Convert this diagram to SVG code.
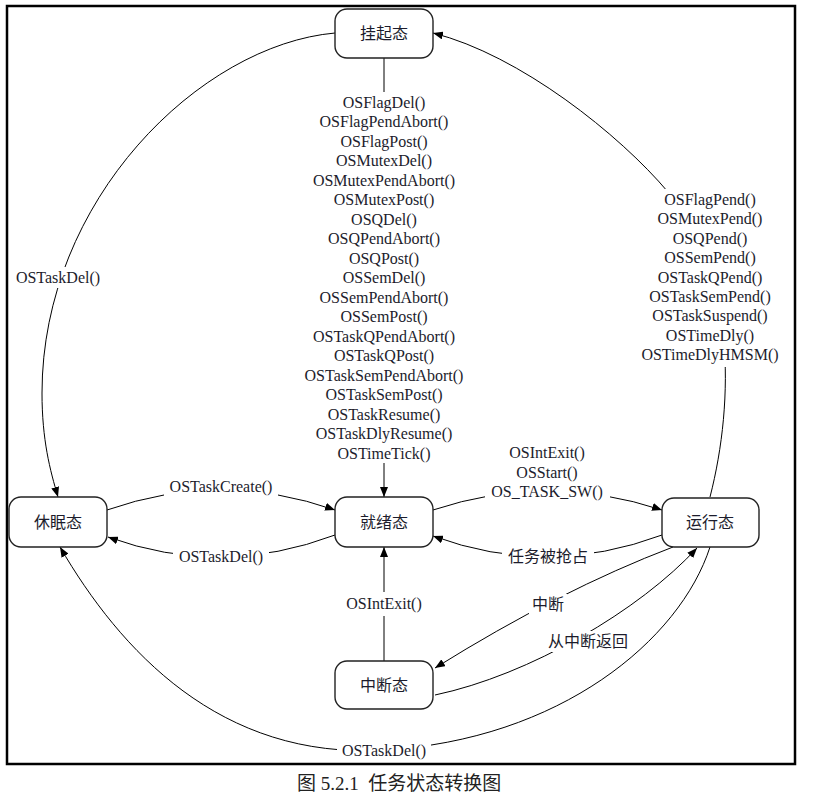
<svg xmlns="http://www.w3.org/2000/svg" width="814" height="797" viewBox="0 0 814 797">
<style>
.frame{fill:none;stroke:#000;stroke-width:2.5}
.node rect{fill:#fff;stroke:#222;stroke-width:1.4}
.node text,.lbl text{font-family:"Liberation Serif","Noto Sans CJK SC",serif;font-size:16px;fill:#1c1c2c;text-anchor:middle}
.edge{fill:none;stroke:#000;stroke-width:1}
.bg{fill:#fff;stroke:none}
.cap{font-family:"Liberation Serif","Noto Sans CJK SC",serif;font-size:19px;fill:#222}
</style>
<defs>
<marker id="arr" viewBox="0 0 10 8" refX="10" refY="4" markerWidth="10" markerHeight="8" markerUnits="userSpaceOnUse" orient="auto">
<path d="M0,0 L10,4 L0,8 Z" fill="#000"/>
</marker>
</defs>
<rect width="814" height="797" fill="#fff"/>
<rect class="frame" x="7" y="6" width="788" height="758"/>

<g id="connectors">
<path class="edge" d="M335,33 C200,45 42,200 42,393 C42,440 50,470 58,497" marker-end="url(#arr)"/>
<path class="edge" d="M710,497 C735,400 735,270 668,192 C620,135 520,55 433,33" marker-end="url(#arr)"/>
<path class="edge" d="M710,547 C680,640 560,740 384,750 C220,760 120,650 60,547" marker-end="url(#arr)"/>
<path class="edge" d="M384,58 L384,92"/>
<path class="edge" d="M384,463 L384,497" marker-end="url(#arr)"/>
<path class="edge" d="M107,510 Q221,470 335,510" marker-end="url(#arr)"/>
<path class="edge" d="M335,535 Q221,578 108,537" marker-end="url(#arr)"/>
<path class="edge" d="M433,510 Q547,472 662,510" marker-end="url(#arr)"/>
<path class="edge" d="M662,535 Q547,578 433,536" marker-end="url(#arr)"/>
<path class="edge" d="M384,661 L384,616"/>
<path class="edge" d="M384,592 L384,547" marker-end="url(#arr)"/>
<path class="edge" d="M673,547 Q560,590 435,668" marker-end="url(#arr)"/>
<path class="edge" d="M435,695 C530,675 640,610 697,548" marker-end="url(#arr)"/>
</g>

<g id="labels">
<g class="lbl"><rect class="bg" x="12" y="267" width="92" height="21"/><text x="58" y="283">OSTaskDel()</text></g>
<g class="lbl"><rect class="bg" x="636" y="189" width="150" height="178"/>
<text x="710" y="205">OSFlagPend()</text>
<text x="710" y="224.4">OSMutexPend()</text>
<text x="710" y="243.8">OSQPend()</text>
<text x="710" y="263.2">OSSemPend()</text>
<text x="710" y="282.6">OSTaskQPend()</text>
<text x="710" y="302">OSTaskSemPend()</text>
<text x="710" y="321.4">OSTaskSuspend()</text>
<text x="710" y="340.8">OSTimeDly()</text>
<text x="710" y="360.2">OSTimeDlyHMSM()</text>
</g>
<g class="lbl">
<text x="384" y="107.5">OSFlagDel()</text>
<text x="384" y="127">OSFlagPendAbort()</text>
<text x="384" y="146.5">OSFlagPost()</text>
<text x="384" y="166">OSMutexDel()</text>
<text x="384" y="185.5">OSMutexPendAbort()</text>
<text x="384" y="205">OSMutexPost()</text>
<text x="384" y="224.5">OSQDel()</text>
<text x="384" y="244">OSQPendAbort()</text>
<text x="384" y="263.5">OSQPost()</text>
<text x="384" y="283">OSSemDel()</text>
<text x="384" y="302.5">OSSemPendAbort()</text>
<text x="384" y="322">OSSemPost()</text>
<text x="384" y="341.5">OSTaskQPendAbort()</text>
<text x="384" y="361">OSTaskQPost()</text>
<text x="384" y="380.5">OSTaskSemPendAbort()</text>
<text x="384" y="400">OSTaskSemPost()</text>
<text x="384" y="419.5">OSTaskResume()</text>
<text x="384" y="439">OSTaskDlyResume()</text>
<text x="384" y="458.5">OSTimeTick()</text>
</g>
<g class="lbl"><rect class="bg" x="337" y="740" width="94" height="21"/><text x="384" y="756">OSTaskDel()</text></g>
<g class="lbl"><rect class="bg" x="164" y="477" width="114" height="21"/><text x="221" y="492">OSTaskCreate()</text></g>
<g class="lbl"><rect class="bg" x="173" y="547" width="96" height="21"/><text x="221" y="562">OSTaskDel()</text></g>
<g class="lbl"><rect class="bg" x="485" y="443" width="125" height="58"/>
<text x="547" y="458">OSIntExit()</text>
<text x="547" y="477.5">OSStart()</text>
<text x="547" y="497">OS_TASK_SW()</text>
</g>
<g class="lbl"><rect class="bg" x="502" y="547" width="92" height="21"/><text x="548" y="562">任务被抢占</text></g>
<g class="lbl"><text x="384" y="609">OSIntExit()</text></g>
<g class="lbl"><rect class="bg" x="529" y="594" width="38" height="21"/><text x="548" y="610">中断</text></g>
<g class="lbl"><rect class="bg" x="542" y="631" width="92" height="21"/><text x="588" y="647">从中断返回</text></g>
</g>

<g id="n-suspend" class="node"><rect x="335" y="9" width="98" height="49" rx="12"/><text x="384" y="39">挂起态</text></g>
<g id="n-dormant" class="node"><rect x="9" y="497" width="98" height="50" rx="12"/><text x="58" y="528">休眠态</text></g>
<g id="n-ready" class="node"><rect x="335" y="497" width="98" height="50" rx="12"/><text x="384" y="528">就绪态</text></g>
<g id="n-running" class="node"><rect x="662" y="498" width="97" height="49" rx="12"/><text x="710" y="528">运行态</text></g>
<g id="n-isr" class="node"><rect x="335" y="661" width="98" height="48" rx="12"/><text x="384" y="691">中断态</text></g>

<text class="cap" x="297" y="790" xml:space="preserve">图 5.2.1  任务状态转换图</text>
</svg>
